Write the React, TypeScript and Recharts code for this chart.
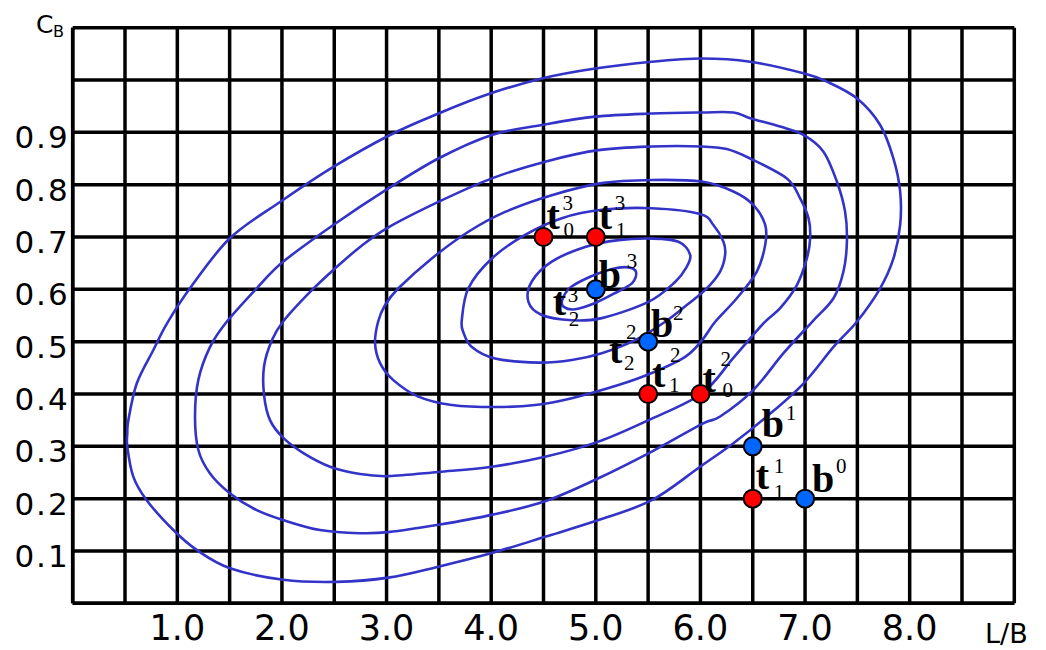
import React from 'react';
import { ComposedChart, Line, Scatter, XAxis, YAxis, CartesianGrid } from 'recharts';

// ---------- axes ----------
const xTicks = [0, 0.5, 1, 1.5, 2, 2.5, 3, 3.5, 4, 4.5, 5, 5.5, 6, 6.5, 7, 7.5, 8, 8.5, 9];
const yTicks = [0, 0.1, 0.2, 0.3, 0.4, 0.5, 0.6, 0.7, 0.8, 0.9, 1.0, 1.1];
const xLabelValues = [1, 2, 3, 4, 5, 6, 7, 8];
const xTickLabels = ['1.0', '2.0', '3.0', '4.0', '5.0', '6.0', '7.0', '8.0'];
const yLabelValues = [0.1, 0.2, 0.3, 0.4, 0.5, 0.6, 0.7, 0.8, 0.9];
const yTickLabels = ['0.1', '0.2', '0.3', '0.4', '0.5', '0.6', '0.7', '0.8', '0.9'];

// ---------- contour lines (L/B, C_B) ----------
const contour1: [number, number][] = [
  [4.678, 0.579], [4.754, 0.603], [4.946, 0.624], [5.156, 0.639], [5.309, 0.642], [5.385, 0.633],
  [5.347, 0.612], [5.185, 0.593], [4.994, 0.574], [4.802, 0.562], [4.697, 0.566],
];
const contour2: [number, number][] = [
  [4.356, 0.576], [4.388, 0.615], [4.579, 0.653], [4.898, 0.681], [5.216, 0.694], [5.535, 0.697],
  [5.79, 0.691], [5.902, 0.666], [5.863, 0.641], [5.758, 0.614], [5.503, 0.576], [5.057, 0.545],
  [4.771, 0.541], [4.484, 0.551],
];
const contour3: [number, number][] = [
  [3.719, 0.541], [3.782, 0.602], [4.006, 0.659], [4.324, 0.704], [4.675, 0.736], [5.057, 0.752],
  [5.535, 0.755], [5.997, 0.744], [6.124, 0.723], [6.22, 0.691], [6.236, 0.666], [6.188, 0.634],
  [6.061, 0.602], [5.882, 0.572], [5.663, 0.538], [5.376, 0.503], [5.057, 0.478], [4.771, 0.465],
  [4.451, 0.46], [4.037, 0.468], [3.815, 0.49], [3.734, 0.518],
];
const contour4: [number, number][] = [
  [2.89, 0.497], [2.919, 0.538], [2.986, 0.57], [3.113, 0.602], [3.432, 0.659], [3.782, 0.71],
  [4.133, 0.748], [4.579, 0.78], [5.057, 0.803], [5.535, 0.809], [6.013, 0.806], [6.315, 0.787],
  [6.507, 0.761], [6.619, 0.723], [6.619, 0.685], [6.539, 0.634], [6.348, 0.583], [6.141, 0.538],
  [6.016, 0.503], [5.854, 0.471], [5.535, 0.44], [5.216, 0.417], [4.771, 0.392], [4.42, 0.379],
  [4.037, 0.375], [3.623, 0.379], [3.304, 0.395], [3.062, 0.427], [2.938, 0.459],
];
const contour5: [number, number][] = [
  [1.829, 0.453], [1.905, 0.503], [2.013, 0.539], [2.269, 0.595], [2.491, 0.637], [2.747, 0.681],
  [3.014, 0.718], [3.495, 0.767], [4.006, 0.812], [4.515, 0.844], [5.025, 0.866], [5.535, 0.873],
  [6.013, 0.873], [6.252, 0.868], [6.475, 0.85], [6.826, 0.812], [6.953, 0.774], [7.033, 0.736],
  [7.049, 0.698], [7.017, 0.659], [6.922, 0.608], [6.762, 0.564], [6.602, 0.535], [6.315, 0.469],
  [6.013, 0.401], [5.503, 0.35], [5.025, 0.309], [4.515, 0.28], [4.006, 0.261], [3.495, 0.251],
  [3.017, 0.243], [2.747, 0.247], [2.46, 0.261], [2.205, 0.287], [2.013, 0.316], [1.886, 0.35],
  [1.829, 0.398],
];
const contour6: [number, number][] = [
  [1.169, 0.357], [1.201, 0.427], [1.313, 0.49], [1.472, 0.538], [1.759, 0.602], [2.013, 0.653],
  [2.491, 0.723], [2.995, 0.79], [3.495, 0.85], [4.006, 0.895], [4.484, 0.914], [4.993, 0.93],
  [5.535, 0.936], [6.013, 0.938], [6.315, 0.938], [6.475, 0.927], [6.762, 0.911], [6.985, 0.895],
  [7.176, 0.863], [7.304, 0.806], [7.383, 0.748], [7.4, 0.691], [7.367, 0.634], [7.272, 0.583],
  [7.068, 0.538], [6.794, 0.478], [6.507, 0.408], [6.188, 0.357], [6.016, 0.343], [5.535, 0.29],
  [5.025, 0.239], [4.515, 0.195], [4.006, 0.169], [3.495, 0.15], [3.017, 0.136], [2.747, 0.134],
  [2.364, 0.14], [2.013, 0.159], [1.759, 0.178], [1.504, 0.21], [1.313, 0.248], [1.201, 0.293],
];
const contour7: [number, number][] = [
  [0.522, 0.325], [0.532, 0.35], [0.612, 0.42], [0.771, 0.484], [0.899, 0.534], [1.121, 0.602],
  [1.504, 0.698], [1.982, 0.767], [2.491, 0.834], [3.033, 0.895], [3.495, 0.936], [3.942, 0.971],
  [4.484, 1.003], [4.993, 1.022], [5.535, 1.035], [6.013, 1.041], [6.475, 1.035], [6.985, 1.013],
  [7.208, 0.997], [7.495, 0.965], [7.718, 0.914], [7.845, 0.85], [7.909, 0.787], [7.909, 0.723],
  [7.845, 0.659], [7.718, 0.602], [7.495, 0.538], [7.272, 0.49], [6.985, 0.42], [6.635, 0.357],
  [6.315, 0.306], [5.997, 0.261], [5.535, 0.197], [5.025, 0.159], [4.515, 0.127], [4.006, 0.096],
  [3.495, 0.07], [3.017, 0.049], [2.524, 0.041], [2.013, 0.045], [1.504, 0.067], [1.185, 0.102],
  [0.962, 0.14], [0.707, 0.197], [0.579, 0.242], [0.522, 0.299],
];

// ---------- points ----------
type Pt = { x: number; y: number; base: string; sub?: string; sup: string };
const redPoints: Pt[] = [
  { x: 4.5, y: 0.7, base: 't', sub: '0', sup: '3' },
  { x: 5.0, y: 0.7, base: 't', sub: '1', sup: '3' },
  { x: 5.5, y: 0.4, base: 't', sub: '1', sup: '2' },
  { x: 6.0, y: 0.4, base: 't', sub: '0', sup: '2' },
  { x: 6.5, y: 0.2, base: 't', sub: '1', sup: '1' },
];
const bluePoints: Pt[] = [
  { x: 5.0, y: 0.6, base: 'b', sup: '3' },
  { x: 5.5, y: 0.5, base: 'b', sup: '2' },
  { x: 6.5, y: 0.3, base: 'b', sup: '1' },
  { x: 7.0, y: 0.2, base: 'b', sup: '0' },
];
const coincidentLabels: Pt[] = [
  { x: 5.0, y: 0.6, base: 't', sub: '2', sup: '3' },
  { x: 5.5, y: 0.5, base: 't', sub: '2', sup: '2' },
];

// label placement (pixels relative to the point)
const labelOffsets: Record<string, { bx: number; by: number; px: number; py: number; qx?: number; qy?: number }> = {
  t03: { bx: 3, by: -8, px: 19, py: -27, qx: 20, qy: 0 },
  t13: { bx: 3, by: -8, px: 19, py: -27, qx: 20, qy: 0 },
  b3: { bx: 3, by: -1, px: 31, py: -21 },
  t23: { bx: -43, by: 26, px: -28, py: 13, qx: -27, qy: 37 },
  b2: { bx: 3, by: -5, px: 25, py: -22 },
  t22: { bx: -39, by: 21, px: -22, py: -3, qx: -24, qy: 28 },
  t12: { bx: 4, by: -7, px: 22, py: -32, qx: 21, qy: -2 },
  t02: { bx: 2, by: -2, px: 20, py: -28, qx: 22, qy: 3 },
  b1: { bx: 9, by: -9, px: 33, py: -26 },
  t11: { bx: 3, by: -10, px: 21, py: -26, qx: 21, qy: 0 },
  b0: { bx: 7, by: -7, px: 31, py: -26 },
};

const toObjs = (arr: [number, number][]) => arr.map(([x, y]) => ({ x, y }));
const contours = [contour1, contour2, contour3, contour4, contour5, contour6, contour7].map(toObjs);

// closed Catmull-Rom curve factory (smooth closed contour)
function closedSmooth(context: any) {
  let pts: [number, number][] = [];
  return {
    areaStart() {},
    areaEnd() {},
    lineStart() {
      pts = [];
    },
    point(x: number, y: number) {
      pts.push([+x, +y]);
    },
    lineEnd() {
      const n = pts.length;
      if (n < 3) return;
      context.moveTo(pts[0][0], pts[0][1]);
      for (let i = 0; i < n; i++) {
        const p0 = pts[(i - 1 + n) % n];
        const p1 = pts[i];
        const p2 = pts[(i + 1) % n];
        const p3 = pts[(i + 2) % n];
        context.bezierCurveTo(
          p1[0] + (p2[0] - p0[0]) / 6,
          p1[1] + (p2[1] - p0[1]) / 6,
          p2[0] - (p3[0] - p1[0]) / 6,
          p2[1] - (p3[1] - p1[1]) / 6,
          p2[0],
          p2[1]
        );
      }
      context.closePath();
    },
  };
}

const SERIF = "'Liberation Serif', 'Times New Roman', serif";
const SANS = "'DejaVu Sans', Verdana, sans-serif";

const PointLabel = ({ cx, cy, p }: { cx: number; cy: number; p: Pt }) => {
  const key = p.base + (p.sub ?? '') + p.sup;
  const o = labelOffsets[key];
  if (!o) return null;
  return (
    <g fontFamily={SERIF} fill="#000">
      <text x={cx + o.bx} y={cy + o.by} fontWeight="bold" fontSize={40}>
        {p.base}
      </text>
      <text x={cx + o.px} y={cy + o.py} fontSize={21}>
        {p.sup}
      </text>
      {p.sub !== undefined && o.qx !== undefined && (
        <text x={cx + o.qx} y={cy + (o.qy ?? 0)} fontSize={21}>
          {p.sub}
        </text>
      )}
    </g>
  );
};

const makeMarker = (color: string | null) => (props: any) => {
  const { cx, cy, payload } = props;
  if (cx == null || cy == null) return <g />;
  return (
    <g>
      {color && <circle cx={cx} cy={cy} r={9} fill={color} stroke="#000" strokeWidth={2} />}
      <PointLabel cx={cx} cy={cy} p={payload as Pt} />
    </g>
  );
};

const XTick = (props: any) => {
  const { x, y, payload } = props;
  const i = xLabelValues.findIndex((v) => Math.abs(v - payload.value) < 1e-6);
  if (i < 0) return <g />;
  return (
    <text x={x} y={y + 37} textAnchor="middle" fontFamily={SANS} fontSize={35} fill="#000">
      {xTickLabels[i]}
    </text>
  );
};

const YTick = (props: any) => {
  const { x, y, payload } = props;
  const i = yLabelValues.findIndex((v) => Math.abs(v - payload.value) < 1e-6);
  if (i < 0) return <g />;
  return (
    <text x={x - 3} y={y + 16} textAnchor="end" fontFamily={SANS} fontSize={31} letterSpacing={2} fill="#000">
      {yTickLabels[i]}
    </text>
  );
};

export default function App() {
  return (
    <div style={{ position: 'absolute', left: 0, top: 0, width: 1046, height: 650, background: '#fff' }}>
      <ComposedChart width={1046} height={650} margin={{ top: 27.7, right: 31.7, left: 0, bottom: 0 }}>
        <CartesianGrid stroke="#000" strokeWidth={3.5} fill="none" />
        <XAxis
          type="number"
          dataKey="x"
          domain={[0, 9]}
          ticks={xTicks}
          interval={0}
          height={46.7}
          tickSize={0}
          tickMargin={0}
          tickLine={false}
          axisLine={{ stroke: '#000', strokeWidth: 3.5 }}
          tick={<XTick />}
          allowDataOverflow
        />
        <YAxis
          type="number"
          dataKey="y"
          domain={[0, 1.1]}
          ticks={yTicks}
          interval={0}
          width={72.7}
          tickSize={0}
          tickMargin={0}
          tickLine={false}
          axisLine={{ stroke: '#000', strokeWidth: 3.5 }}
          tick={<YTick />}
          allowDataOverflow
        />
        {contours.map((c, i) => (
          <Line
            key={i}
            data={c}
            dataKey="y"
            type={closedSmooth as any}
            stroke="#3333c8"
            strokeWidth={2.6}
            dot={false}
            activeDot={false}
            isAnimationActive={false}
            legendType="none"
          />
        ))}
        <Scatter data={redPoints} dataKey="y" shape={makeMarker('#ff0000')} isAnimationActive={false} />
        <Scatter data={bluePoints} dataKey="y" shape={makeMarker('#0066ff')} isAnimationActive={false} />
        <Scatter data={coincidentLabels} dataKey="y" shape={makeMarker(null)} isAnimationActive={false} />
      </ComposedChart>
      <svg
        width={1046}
        height={650}
        style={{ position: 'absolute', left: 0, top: 0, pointerEvents: 'none', overflow: 'visible' }}
      >
        <text x={36} y={33} fontFamily={SANS} fontSize={25} fill="#000">
          C
        </text>
        <text x={53} y={37} fontFamily={SANS} fontSize={16} fill="#000">
          B
        </text>
        <text x={985} y={643} fontFamily={SANS} fontSize={27} fill="#000">
          L/B
        </text>
      </svg>
    </div>
  );
}
